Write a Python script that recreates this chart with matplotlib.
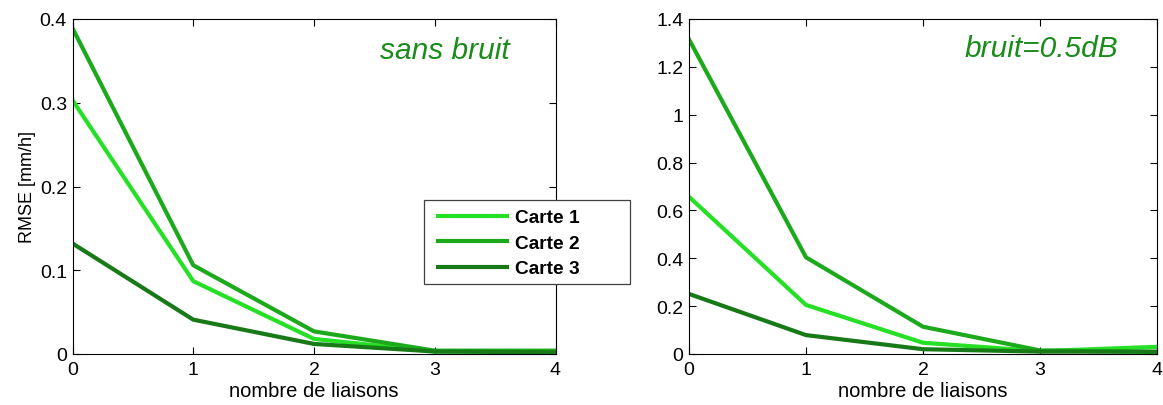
import matplotlib
matplotlib.use("Agg")
import matplotlib.pyplot as plt
from matplotlib.patches import Rectangle

plt.rcParams['font.family'] = ['Liberation Sans', 'DejaVu Sans']

liaisons = [0, 1, 2, 3, 4]
series_names = ["Carte 1", "Carte 2", "Carte 3"]
colors = ["#26E026", "#1CAA1C", "#177A17"]

# RMSE without noise
rmse_sans_bruit = {
    "Carte 1": [0.303, 0.087, 0.018, 0.003, 0.003],
    "Carte 2": [0.389, 0.106, 0.027, 0.004, 0.004],
    "Carte 3": [0.132, 0.041, 0.012, 0.003, 0.002],
}
# RMSE with 0.5 dB noise
rmse_bruit = {
    "Carte 1": [0.657, 0.205, 0.047, 0.012, 0.030],
    "Carte 2": [1.315, 0.404, 0.114, 0.015, 0.008],
    "Carte 3": [0.251, 0.079, 0.020, 0.010, 0.010],
}

left_yticks = [0, 0.1, 0.2, 0.3, 0.4]
left_ylabels = ["0", "0.1", "0.2", "0.3", "0.4"]
right_yticks = [0, 0.2, 0.4, 0.6, 0.8, 1.0, 1.2, 1.4]
right_ylabels = ["0", "0.2", "0.4", "0.6", "0.8", "1", "1.2", "1.4"]

W, H = 1163, 406
fig = plt.figure(figsize=(W / 100, H / 100), dpi=100)


def px_axes(x0, y0, x1, y1):
    return fig.add_axes([x0 / W, 1 - y1 / H, (x1 - x0) / W, (y1 - y0) / H])


ax1 = px_axes(72.5, 20, 555.5, 355)
ax2 = px_axes(689, 20, 1157, 355)


def style(ax, yticks, ylabels, ymax):
    ax.set_xlim(0, 4)
    ax.set_ylim(0, ymax)
    ax.set_xticks(liaisons)
    ax.set_xticklabels([str(v) for v in liaisons])
    ax.set_yticks(yticks)
    ax.set_yticklabels(ylabels)
    ax.tick_params(direction="in", top=True, right=True, length=5,
                   labelsize=14, width=0.8)
    ax.tick_params(axis="y", pad=4)
    ax.tick_params(axis="x", pad=5)
    for s in ax.spines.values():
        s.set_linewidth(0.8)
    ax.set_xlabel("nombre de liaisons", fontsize=14.5, labelpad=2)


lines = []
for name, c in zip(series_names, colors):
    l, = ax1.plot(liaisons, rmse_sans_bruit[name], color=c, lw=3,
                  label=name, solid_joinstyle="round")
    lines.append(l)
    ax2.plot(liaisons, rmse_bruit[name], color=c, lw=3,
             solid_joinstyle="round")

style(ax1, left_yticks, left_ylabels, 0.4)
style(ax2, right_yticks, right_ylabels, 1.4)
ax1.set_ylabel("RMSE [mm/h]", fontsize=13, labelpad=3)

ax1.text(0.905, 0.906, "sans bruit", transform=ax1.transAxes, ha="right",
         va="center", fontsize=21.5, style="italic", color="#1A8C1A")
ax2.text(0.917, 0.913, "bruit=0.5dB", transform=ax2.transAxes, ha="right",
         va="center", fontsize=21.5, style="italic", color="#1A8C1A")

# legend frame drawn as a separate box so the entries can sit with wide margins
frame = Rectangle((424 / W, 1 - 285 / H), (630 - 424) / W, (285 - 201) / H,
                  transform=fig.transFigure, facecolor="white",
                  edgecolor="#404040", linewidth=0.9, zorder=5)
fig.add_artist(frame)
leg = fig.legend(handles=lines, labels=series_names,
                 loc="upper left",
                 bbox_to_anchor=(438 / W, 1 - 210 / H),
                 prop={"weight": "bold", "size": 13.8},
                 frameon=False,
                 handlelength=3.6, borderpad=0, labelspacing=0.42,
                 handletextpad=0.42, borderaxespad=0)
leg.set_zorder(6)

fig.savefig("out.png", dpi=100)
